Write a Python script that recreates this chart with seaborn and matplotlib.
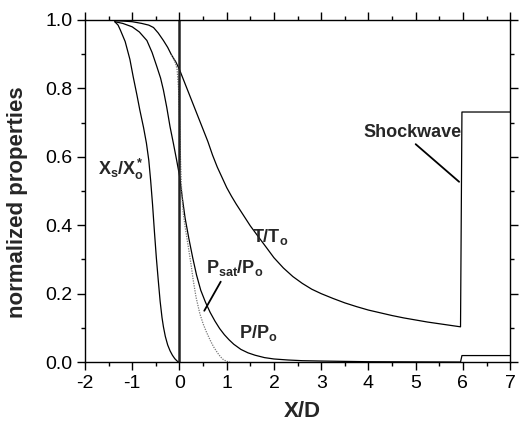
import numpy as np
import pandas as pd
import matplotlib
matplotlib.use("Agg")
import matplotlib.pyplot as plt
from matplotlib.ticker import MultipleLocator, FormatStrFormatter
import seaborn as sns

# ---- data ----
xs_x = [-1.37, -1.3, -1.25, -1.15, -1.05, -0.98, -0.9, -0.84, -0.76, -0.70,
        -0.65, -0.61, -0.57, -0.53, -0.49, -0.45, -0.41, -0.37, -0.34, -0.30,
        -0.25, -0.20, -0.15, -0.10, -0.05, -0.02]
xs_y = [0.995, 0.985, 0.97, 0.937, 0.885, 0.834, 0.78, 0.737, 0.685, 0.64,
        0.59, 0.53, 0.46, 0.38, 0.305, 0.24, 0.178, 0.13, 0.103, 0.075,
        0.05, 0.033, 0.02, 0.01, 0.003, 0.0]

p_x = [-1.37, -1.2, -1.0, -0.85, -0.69, -0.58, -0.48, -0.40, -0.34, -0.27,
       -0.20, -0.13, -0.06, 0.0, 0.06, 0.12, 0.20, 0.28, 0.36, 0.45, 0.55,
       0.65, 0.75, 0.85, 0.95, 1.05, 1.15, 1.3, 1.45, 1.6, 1.8, 2.0, 2.3,
       2.6, 3.0, 3.5, 4.0, 5.0, 5.95, 5.98, 7.0]
p_y = [0.995, 0.99, 0.98, 0.965, 0.94, 0.905, 0.864, 0.83, 0.795, 0.745,
       0.688, 0.64, 0.59, 0.545, 0.48, 0.42, 0.36, 0.305, 0.255, 0.21, 0.175,
       0.145, 0.12, 0.098, 0.08, 0.065, 0.052, 0.037, 0.027, 0.02, 0.013,
       0.009, 0.006, 0.004, 0.003, 0.002, 0.001, 0.0005, 0.0, 0.019, 0.019]

t_x = [-1.37, -1.2, -1.0, -0.8, -0.65, -0.55, -0.45, -0.34, -0.25, -0.17,
       -0.08, 0.0, 0.1, 0.2, 0.3, 0.4, 0.5, 0.6, 0.7, 0.8, 0.9, 1.0, 1.1,
       1.2, 1.35, 1.5, 1.65, 1.85, 2.0, 2.2, 2.4, 2.6, 2.8, 3.0, 3.25, 3.5,
       3.75, 4.0, 4.25, 4.5, 4.75, 5.0, 5.25, 5.5, 5.75, 5.95, 5.98, 7.0]
t_y = [0.998, 0.997, 0.995, 0.99, 0.985, 0.978, 0.962, 0.94, 0.92, 0.898,
       0.878, 0.855, 0.82, 0.785, 0.75, 0.715, 0.68, 0.645, 0.605, 0.57,
       0.54, 0.51, 0.485, 0.462, 0.43, 0.398, 0.37, 0.333, 0.305, 0.275,
       0.25, 0.23, 0.213, 0.20, 0.186, 0.173, 0.162, 0.152, 0.144, 0.136,
       0.129, 0.123, 0.117, 0.112, 0.107, 0.103, 0.731, 0.731]

psat_x = [-0.17, -0.12, -0.08, -0.05, -0.02, 0.0, 0.02, 0.04, 0.06, 0.08,
          0.12, 0.16, 0.20, 0.25, 0.29, 0.35, 0.43, 0.50, 0.57, 0.65, 0.72,
          0.80, 0.87, 0.93, 1.0, 1.07]
psat_y = [0.898, 0.885, 0.872, 0.855, 0.80, 0.72, 0.60, 0.52, 0.47, 0.435,
          0.395, 0.36, 0.325, 0.28, 0.24, 0.19, 0.142, 0.112, 0.088, 0.064,
          0.045, 0.028, 0.015, 0.007, 0.002, 0.0]

x_ticks = [-2, -1, 0, 1, 2, 3, 4, 5, 6, 7]
y_ticks = [0.0, 0.2, 0.4, 0.6, 0.8, 1.0]

# ---- style ----
sns.set_style("ticks")
plt.rcParams['font.family'] = ['Liberation Sans', 'DejaVu Sans']
plt.rcParams['mathtext.fontset'] = 'custom'
plt.rcParams['mathtext.rm'] = 'Liberation Sans'
plt.rcParams['mathtext.bf'] = 'Liberation Sans:bold'
plt.rcParams['mathtext.it'] = 'Liberation Sans:italic'
plt.rcParams['axes.unicode_minus'] = False

fig = plt.figure(figsize=(5.2, 4.21), dpi=100)
ax = fig.add_axes([0.1635, 0.140, 0.8175, 0.8125])

lw = 0.9
sns.lineplot(x=xs_x, y=xs_y, ax=ax, color='black', lw=lw, sort=False, estimator=None)
sns.lineplot(x=p_x, y=p_y, ax=ax, color='black', lw=lw, sort=False, estimator=None)
sns.lineplot(x=t_x, y=t_y, ax=ax, color='black', lw=lw, sort=False, estimator=None)
sns.lineplot(x=psat_x, y=psat_y, ax=ax, color='#777777', lw=0.9, sort=False,
             estimator=None, linestyle=(0, (1, 1)))

ax.axvline(0, color='#222222', lw=1.8)

ax.set_xlim(-2, 7)
ax.set_ylim(0, 1.0)
ax.set_xticks(x_ticks)
ax.set_yticks(y_ticks)
ax.yaxis.set_major_formatter(FormatStrFormatter('%.1f'))
ax.xaxis.set_minor_locator(MultipleLocator(0.5))
ax.yaxis.set_minor_locator(MultipleLocator(0.1))
ax.tick_params(which='both', direction='out', top=True, right=True,
               labeltop=False, labelright=False, width=1.0, colors='black')
ax.tick_params(which='major', length=6, labelsize=14, pad=3)
ax.tick_params(which='minor', length=3)
for s in ax.spines.values():
    s.set_linewidth(1.0)
    s.set_color('black')

ax.set_xlabel('X/D', fontsize=16, fontweight='bold')
ax.set_ylabel('normalized properties', fontsize=16, fontweight='bold')
ax.xaxis.set_label_coords(0.51, -0.115)
ax.yaxis.set_label_coords(-0.134, 0.468)

fs = 13
ax.text(-1.73, 0.547, r'$\mathbf{X_s/X_o^*}$', fontsize=fs, ha='left', va='baseline')
ax.text(1.53, 0.352, r'$\mathbf{T/T_o}$', fontsize=fs, ha='left', va='baseline')
ax.text(0.56, 0.259, r'$\mathbf{P_{sat}/P_o}$', fontsize=fs, ha='left', va='baseline')
ax.text(1.25, 0.069, r'$\mathbf{P/P_o}$', fontsize=fs, ha='left', va='baseline')
ax.text(3.89, 0.659, 'Shockwave', fontsize=fs, fontweight='bold', ha='left', va='baseline')

ax.plot([5.0, 5.92], [0.637, 0.527], color='black', lw=1.3)
ax.plot([0.873, 0.525], [0.235, 0.15], color='black', lw=1.3)

fig.savefig('out.png', dpi=100)
